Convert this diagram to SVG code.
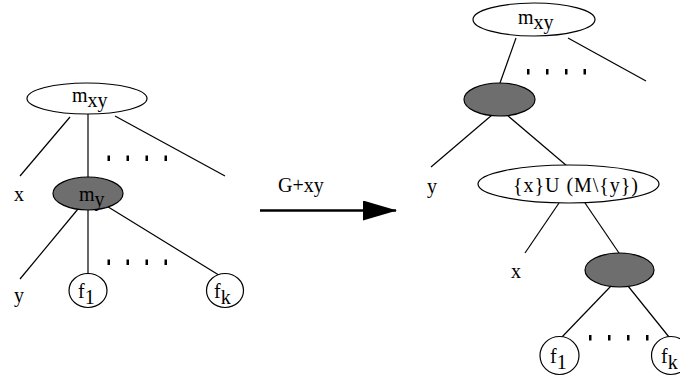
<svg xmlns="http://www.w3.org/2000/svg" width="680" height="376" viewBox="0 0 680 376">
<defs>
<style>
.n{fill:#fff;stroke:#000;stroke-width:1.2}
.g{fill:#6e6e6e;stroke:#000;stroke-width:1.2}
.e{stroke:#000;stroke-width:1.2;fill:none}
.t{font-family:'Liberation Serif','DejaVu Serif','Times New Roman',serif;font-size:20px;fill:#000}
.d{fill:#000}
</style>
<marker id="ah" markerWidth="34" markerHeight="20" refX="33" refY="10" orient="auto" markerUnits="userSpaceOnUse"><path d="M0,0 L34,10 L0,20 Z" fill="#000"/></marker>
</defs>
<g id="connectors">
<line class="e" x1="70" y1="117" x2="20" y2="176"/>
<line class="e" x1="88" y1="114" x2="88" y2="177"/>
<line class="e" x1="115" y1="116" x2="225" y2="176"/>
<line class="e" x1="78" y1="209" x2="20" y2="279"/>
<line class="e" x1="88" y1="210" x2="88" y2="273"/>
<line class="e" x1="105" y1="205" x2="222" y2="277"/>
<line x1="260" y1="210.5" x2="396" y2="210.5" stroke="#000" stroke-width="2.5" marker-end="url(#ah)"/>
<line class="e" x1="516" y1="38" x2="500" y2="83"/>
<line class="e" x1="568" y1="38" x2="646" y2="81"/>
<line class="e" x1="492" y1="115" x2="431" y2="167"/>
<line class="e" x1="507" y1="115" x2="567" y2="166"/>
<line class="e" x1="559" y1="203" x2="525" y2="253"/>
<line class="e" x1="585" y1="203" x2="619" y2="253"/>
<line class="e" x1="611" y1="286" x2="561" y2="338"/>
<line class="e" x1="628" y1="286" x2="669" y2="337"/>
</g>
<g id="dots" class="d">
<rect x="107.5" y="155.5" width="2.5" height="5.5"/><rect x="126.5" y="155.5" width="2.5" height="5.5"/><rect x="145.5" y="155.5" width="2.5" height="5.5"/><rect x="164.5" y="155.5" width="2.5" height="5.5"/>
<rect x="107.5" y="259.5" width="2.5" height="5.5"/><rect x="126.5" y="259.5" width="2.5" height="5.5"/><rect x="145.5" y="259.5" width="2.5" height="5.5"/><rect x="164.5" y="259.5" width="2.5" height="5.5"/>
<rect x="527" y="69" width="2.5" height="5.5"/><rect x="546" y="69" width="2.5" height="5.5"/><rect x="565" y="69" width="2.5" height="5.5"/><rect x="583.5" y="69" width="2.5" height="5.5"/>
<rect x="589" y="335" width="2.5" height="5.5"/><rect x="608" y="335" width="2.5" height="5.5"/><rect x="627" y="335" width="2.5" height="5.5"/><rect x="646" y="335" width="2.5" height="5.5"/>
</g>
<g id="L-mxy"><ellipse class="n" cx="87" cy="98.5" rx="60" ry="15.5"/><text class="t" x="72" y="102">m<tspan dy="5">xy</tspan></text></g>
<g id="L-my"><ellipse class="g" cx="88" cy="193.5" rx="35" ry="16.5"/><text class="t" x="79" y="201">m<tspan dy="5">y</tspan></text></g>
<g id="L-f1"><ellipse class="n" cx="88" cy="290.5" rx="19" ry="17"/><text class="t" x="78" y="298">f<tspan dy="6">1</tspan></text></g>
<g id="L-fk"><ellipse class="n" cx="225" cy="290.5" rx="18.5" ry="17"/><text class="t" x="214" y="298">f<tspan dy="6">k</tspan></text></g>
<g id="L-x"><text class="t" x="14" y="201">x</text></g>
<g id="L-y"><text class="t" x="14" y="302">y</text></g>
<g id="arrow-label"><text class="t" x="278" y="192">G+xy</text></g>
<g id="R-mxy"><ellipse class="n" cx="534" cy="19.5" rx="61" ry="16.5"/><text class="t" x="518" y="24">m<tspan dy="5">xy</tspan></text></g>
<g id="R-gray1"><ellipse class="g" cx="499.5" cy="99.5" rx="35.5" ry="16.5"/></g>
<g id="R-y"><text class="t" x="427" y="193">y</text></g>
<g id="R-set"><ellipse class="n" cx="568.5" cy="184" rx="90.5" ry="19"/><text class="t" x="513" y="192" textLength="125" lengthAdjust="spacing">{x}U (M\{y})</text></g>
<g id="R-x"><text class="t" x="511" y="278">x</text></g>
<g id="R-gray2"><ellipse class="g" cx="619.5" cy="270" rx="34.5" ry="17"/></g>
<g id="R-f1"><ellipse class="n" cx="559.5" cy="355.5" rx="19.5" ry="19"/><text class="t" x="550" y="363">f<tspan dy="6">1</tspan></text></g>
<g id="R-fk"><ellipse class="n" cx="671" cy="355.5" rx="19.5" ry="19"/><text class="t" x="661" y="363">f<tspan dy="6">k</tspan></text></g>
</svg>
